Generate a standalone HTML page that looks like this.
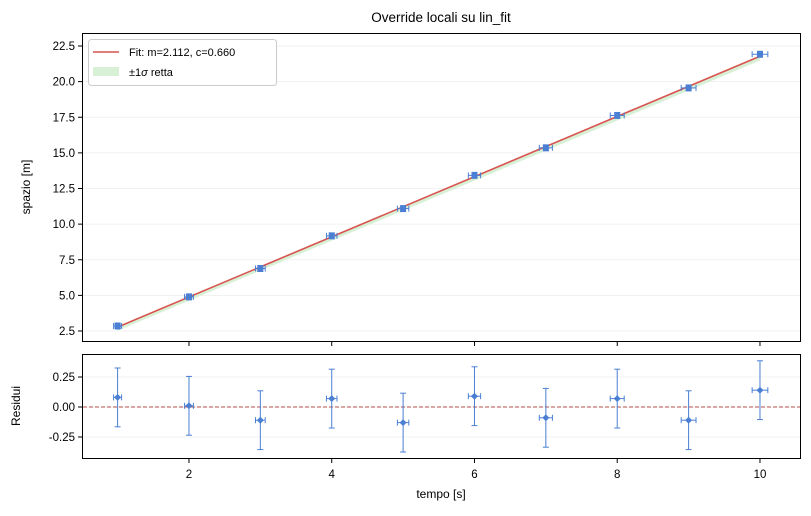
<!DOCTYPE html>
<html><head><meta charset="utf-8"><style>
body{margin:0;background:#fff;}
svg text{font-family:"Liberation Sans","DejaVu Sans",sans-serif;fill:#000;}
</style></head><body>
<svg id="s" width="811" height="511" xmlns="http://www.w3.org/2000/svg">
<text x="441" y="22" font-size="13.5" text-anchor="middle">Override locali su lin_fit</text>
<g id="g"></g>
<rect x="82.5" y="33.5" width="718" height="308" fill="none" stroke="#000" stroke-width="1"/>
<rect x="82.5" y="354.5" width="718" height="104" fill="none" stroke="#000" stroke-width="1"/>
<text transform="translate(30,187) rotate(-90)" font-size="12" text-anchor="middle">spazio [m]</text>
<text transform="translate(20,406) rotate(-90)" font-size="12" text-anchor="middle">Residui</text>
<text x="441" y="498" font-size="12" text-anchor="middle">tempo [s]</text>
<rect x="88.5" y="39.5" width="188" height="46" rx="3" fill="#fff" fill-opacity="0.85" stroke="#ccc"/>
<line x1="93" y1="52" x2="119" y2="52" stroke="#d9534f" stroke-width="1.5"/>
<rect x="93" y="67" width="26" height="9" fill="#d8f0d6"/>
<text x="129" y="56" font-size="11">Fit: m=2.112, c=0.660</text>
<text x="129" y="76" font-size="11">±1<tspan font-style="italic">σ</tspan> retta</text>
</svg>
<script>
const g=document.getElementById('g');let h='';
const X=v=>117.6+(v-1)*71.375, Y=v=>331-(v-2.5)*14.25, R=v=>407-v*120;
// grid + ticks top
for(let t=2.5;t<=22.51;t+=2.5){const y=Y(t);h+=`<line x1="83" x2="800" y1="${y}" y2="${y}" stroke="#eee" stroke-width="0.8"/><line x1="78" x2="82" y1="${y}" y2="${y}" stroke="#000"/><text x="75" y="${y+4}" font-size="11.5" text-anchor="end">${t.toFixed(1)}</text>`;}
for(let t=2;t<=10;t+=2){const x=X(t);h+=`<line x1="${x}" x2="${x}" y1="342" y2="346" stroke="#000"/><line x1="${x}" x2="${x}" y1="459" y2="463" stroke="#000"/><text x="${x}" y="478" font-size="11.5" text-anchor="middle">${t}</text>`;}
[-0.25,0,0.25].forEach(t=>{const y=R(t);h+=`<line x1="83" x2="800" y1="${y}" y2="${y}" stroke="#eee" stroke-width="0.8"/><line x1="78" x2="82" y1="${y}" y2="${y}" stroke="#000"/><text x="75" y="${y+4}" font-size="11.5" text-anchor="end">${t.toFixed(2)}</text>`;});
h+=`<line x1="83" x2="800" y1="${R(0)}" y2="${R(0)}" stroke="#b5504a" stroke-width="1" stroke-dasharray="4,2"/>`;
const f=x=>2.112*x+0.66;
// band
h+=`<polygon points="${X(1)},${Y(f(1)+0.05)} ${X(10)},${Y(f(10)+0.05)} ${X(10)},${Y(f(10)-0.3)} ${X(1)},${Y(f(1)-0.25)}" fill="#d8f0d6"/>`;
h+=`<line x1="${X(1)}" y1="${Y(f(1))}" x2="${X(10)}" y2="${Y(f(10))}" stroke="#d9534f" stroke-width="1.6"/>`;
const res=[0.08,0.01,-0.11,0.07,-0.13,0.09,-0.09,0.07,-0.11,0.14];
const c='#4a7fd4';
res.forEach((r,i)=>{const x=i+1,xe=0.05+0.006*x,v=f(x)+r;
 const px=X(x),py=Y(v),x1=X(x-xe),x2=X(x+xe);
 h+=`<g stroke="${c}" stroke-width="1" fill="none"><line x1="${x1}" x2="${x2}" y1="${py}" y2="${py}"/><line x1="${x1}" x2="${x1}" y1="${py-3}" y2="${py+3}"/><line x1="${x2}" x2="${x2}" y1="${py-3}" y2="${py+3}"/><line x1="${px}" x2="${px}" y1="${py-3}" y2="${py+3}"/><line x1="${px-3}" x2="${px+3}" y1="${py-3}" y2="${py-3}"/><line x1="${px-3}" x2="${px+3}" y1="${py+3}" y2="${py+3}"/></g><rect x="${px-3}" y="${py-3}" width="6" height="6" fill="${c}"/>`;
 const ry=R(r),t=R(r+0.245),b=R(r-0.245);
 h+=`<g stroke="${c}" stroke-width="1" fill="none"><line x1="${px}" x2="${px}" y1="${t}" y2="${b}"/><line x1="${px-3}" x2="${px+3}" y1="${t}" y2="${t}"/><line x1="${px-3}" x2="${px+3}" y1="${b}" y2="${b}"/><line x1="${x1}" x2="${x2}" y1="${ry}" y2="${ry}"/><line x1="${x1}" x2="${x1}" y1="${ry-3}" y2="${ry+3}"/><line x1="${x2}" x2="${x2}" y1="${ry-3}" y2="${ry+3}"/></g><polygon points="${px},${ry-3.5} ${px+3.5},${ry} ${px},${ry+3.5} ${px-3.5},${ry}" fill="${c}"/>`;
});
g.innerHTML=h;
</script>
</body></html>
